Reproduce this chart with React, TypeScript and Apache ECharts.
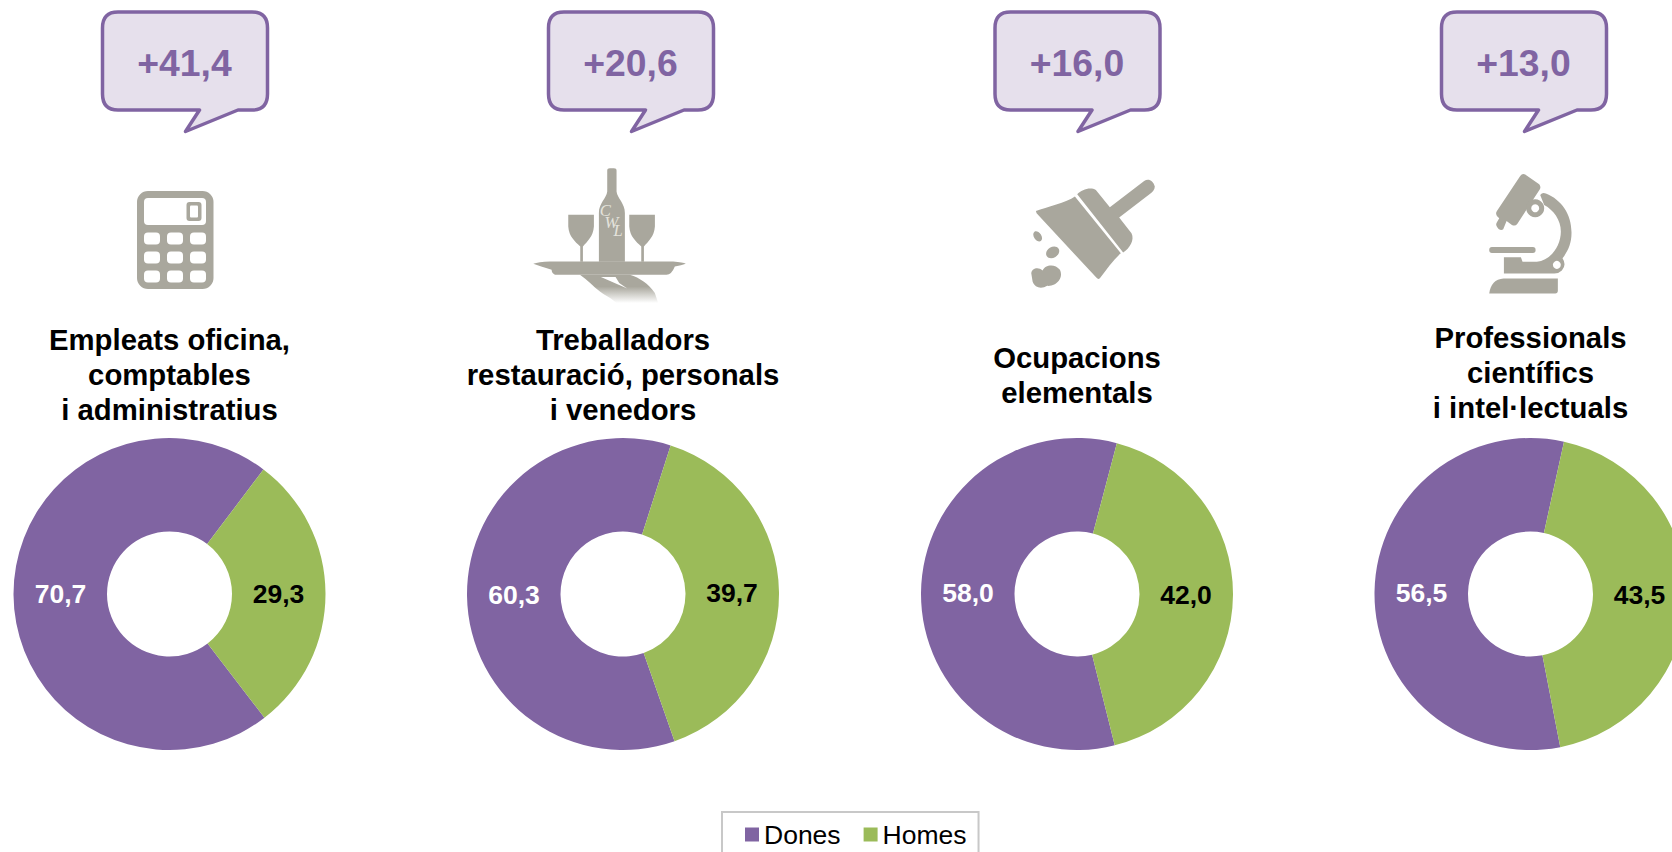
import React, { useEffect, useRef } from "react";
import * as echarts from "echarts";

const occupations = [
  ["Empleats oficina,", "comptables", "i administratius"],
  ["Treballadors", "restauració, personals", "i venedors"],
  ["Ocupacions", "elementals"],
  ["Professionals", "científics", "i intel·lectuals"],
];
const dones = [70.7, 60.3, 58.0, 56.5];
const homes = [29.3, 39.7, 42.0, 43.5];
const gaps = ["+41,4", "+20,6", "+16,0", "+13,0"];
const seriesNames = ["Dones", "Homes"];

const PURPLE = "#8064a2";
const GREEN = "#9bbb59";
const ICON = "#a9a79d";
const FONT = '"Liberation Sans", Arial, sans-serif';

const centers = [169.5, 623, 1077, 1530.5];
const startAngles = [-52.5, -70.7, -76, -79];
const titleTops = [339.3, 339.3, 357.3, 337.3];
const calloutX = [0, 446, 892.5, 1339];

echarts.graphic.registerShape(
  "callout",
  echarts.graphic.extendPath(
    "M118,12 L252,12 Q267.5,12 267.5,28 L267.5,94 Q267.5,110 252,110 L238,110 L185.5,131.5 L199.5,110 L118,110 Q102.5,110 102.5,94 L102.5,28 Q102.5,12 118,12 Z",
    {}
  )
);
const reg = (n: string, d: string) => echarts.graphic.registerShape(n, echarts.graphic.extendPath(d, {}));
reg("bottle", "M322,512 Q322,505 330,505 L342,505 Q350,505 350,512 L350,575 C352,595 375,610 375,640 L375,786 L297,786 L297,640 C297,610 320,595 322,575 Z");
reg("glass", "M205,645 L282,645 L282,680 C280,710 262,725 249,740 L249,786 L241,786 L241,740 C225,725 207,710 205,680 Z");
reg("tray", "M100,792 Q115,786 150,785 L520,785 Q550,787 558,792 Q545,797 525,800 Q515,825 500,825 L165,825 Q155,820 155,810 Q120,800 100,792 Z");
reg("hand", "M240,825 L390,825 C420,835 445,850 465,880 L475,910 L350,910 C335,895 320,890 300,875 C280,860 262,840 240,825 Z");
reg("slit", "M303,832 L347,832 L358,850 L382,866 Z");
reg("broomHead", "M228,243 C260,232 320,218 345,200 L483,370 C460,390 440,420 420,445 Q415,450 410,444 L230,250 Z");
reg("broomBack", "M352,193 C365,180 390,170 408,180 L450,232 L553,153 C565,145 580,150 585,170 C585,180 578,187 570,192 L478,263 L515,310 C525,330 510,355 490,368 Z");
reg("blob", "M214,430 C216,415 235,410 248,422 C255,405 285,400 300,420 C312,445 290,470 262,468 C245,478 225,475 218,455 Z");
reg("tube", "M325,138 Q332,128 342,135 L382,163 Q388,170 384,178 L316,282 Q310,290 300,285 L284,273 L274,298 Q268,303 260,297 L256,292 Q250,285 255,277 L262,265 L255,258 Q250,250 255,243 Z");
reg("arm", "M385,195 Q392,186 402,191 C450,210 480,255 479,310 C479,340 468,365 452,385 Q465,405 450,422 Q440,432 425,431 L276,431 L276,382 L327,382 L332,396 L375,396 C415,392 447,350 447,305 C447,270 425,240 397,225 Z");
reg("base", "M232,491 C235,465 250,447 275,446 L438,446 L438,482 Q438,491 430,491 L232,491 Z");

const rr = (x: number, y: number, w: number, h: number, r: number, fill = ICON) => ({
  type: "rect",
  shape: { x, y, width: w, height: h, r },
  style: { fill },
});

function calculator() {
  const kids: any[] = [
    rr(137, 191, 76.5, 98, 11),
    rr(144, 198, 62, 27, 4, "#fff"),
    rr(186.5, 202, 15, 19, 3),
    rr(190, 205.5, 8, 12, 1, "#fff"),
  ];
  for (const x of [144, 167, 190]) {
    for (const y of [232.5, 251.5, 270.5]) kids.push(rr(x, y, 16, 12, 4, "#fff"));
  }
  return { type: "group", children: kids };
}

function waiter() {
  const s = (type: string, extra: any = {}) => ({ type, style: { fill: ICON }, ...extra });
  const letter = (text: string, x: number, y: number) => ({
    type: "text",
    x,
    y,
    style: { text, fill: "#e4e3dc", font: 'italic 50px "Liberation Serif", serif', align: "center", verticalAlign: "middle" },
  });
  return {
    type: "group",
    x: 500,
    y: 0,
    scaleX: 1 / 3,
    scaleY: 1 / 3,
    children: [
      s("bottle"),
      s("glass"),
      s("glass", { x: 183 }),
      s("tray"),
      {
        type: "hand",
        style: {
          fill: new echarts.graphic.LinearGradient(0, 0, 0, 1, [
            { offset: 0, color: ICON },
            { offset: 0.42, color: ICON },
            { offset: 1, color: "#ffffff" },
          ]),
        },
      },
      { type: "slit", style: { fill: "#fff" } },
      letter("C", 316, 632),
      letter("W", 334, 668),
      letter("L", 354, 692),
    ],
  };
}

function broom() {
  const ell = (cx: number, cy: number, rx: number, ry: number, rot: number) => ({
    type: "ellipse",
    x: cx,
    y: cy,
    rotation: rot,
    shape: { cx: 0, cy: 0, rx, ry },
    style: { fill: ICON },
  });
  return {
    type: "group",
    x: 960,
    y: 130,
    scaleX: 1 / 3,
    scaleY: 1 / 3,
    children: [
      { type: "broomHead", style: { fill: ICON } },
      { type: "broomBack", style: { fill: ICON } },
      ell(233, 319, 11, 17, 0.6),
      ell(278, 367, 21, 16, 0.55),
      { type: "blob", style: { fill: ICON } },
    ],
  };
}

function microscope() {
  const c = (cx: number, cy: number, r: number, fill: string) => ({
    type: "circle",
    shape: { cx, cy, r },
    style: { fill },
  });
  return {
    type: "group",
    x: 1412,
    y: 130,
    scaleX: 1 / 3,
    scaleY: 1 / 3,
    children: [
      { type: "tube", style: { fill: ICON } },
      { type: "arm", style: { fill: ICON } },
      c(370, 235, 27, ICON),
      c(370, 235, 12, "#fff"),
      c(435, 405, 12, "#fff"),
      rr(232, 351, 139, 18, 8),
      { type: "base", style: { fill: ICON } },
    ],
  };
}

export default function App() {
  const ref = useRef<HTMLDivElement>(null);
  useEffect(() => {
    const chart = echarts.init(ref.current!, null, { renderer: "svg" });
    const elements: any[] = [];
    gaps.forEach((g, i) => {
      elements.push({
        type: "callout",
        x: calloutX[i],
        y: 0,
        style: { fill: "#e6e0ec", stroke: PURPLE, lineWidth: 3.5, lineJoin: "round" },
      });
      elements.push({
        type: "text",
        x: 184.5 + calloutX[i],
        y: 62.8,
        style: { text: g, fill: PURPLE, font: `bold 37.3px ${FONT}`, align: "center", verticalAlign: "middle" },
      });
    });
    occupations.forEach((lines, i) => {
      lines.forEach((line, j) => {
        elements.push({
          type: "text",
          x: centers[i],
          y: titleTops[i] + j * 35.2,
          style: { text: line, fill: "#000", font: `bold 29.3px ${FONT}`, align: "center", verticalAlign: "middle" },
        });
      });
    });
    elements.push(calculator(), waiter(), broom(), microscope());

    chart.setOption({
      animation: false,
      backgroundColor: "#fff",
      color: [PURPLE, GREEN],
      legend: {
        data: seriesNames,
        left: 722,
        top: 812,
        orient: "horizontal",
        icon: "rect",
        itemWidth: 14,
        itemHeight: 14,
        itemGap: 23,
        padding: [9, 12, 18, 23],
        borderColor: "#c8c8c8",
        borderWidth: 2,
        textStyle: { fontFamily: FONT, fontSize: 26.5, color: "#000" },
      },
      graphic: { elements },
      series: occupations.map((_, i) => ({
        type: "pie",
        center: [centers[i], 594],
        radius: [62.5, 156],
        startAngle: startAngles[i],
        clockwise: true,
        silent: true,
        avoidLabelOverlap: false,
        labelLine: { show: false },
        labelLayout: (p: any) => ({ dx: p.dataIndex === 0 ? 3.2 : -3.2 }),
        label: {
          show: true,
          position: "inside",
          fontFamily: FONT,
          fontWeight: "bold",
          fontSize: 26.5,
          formatter: (p: any) => p.value.toFixed(1).replace(".", ","),
        },
        data: [
          { name: seriesNames[0], value: dones[i], label: { color: "#fff" }, itemStyle: { color: PURPLE } },
          { name: seriesNames[1], value: homes[i], label: { color: "#000" }, itemStyle: { color: GREEN } },
        ],
      })),
    });
    return () => chart.dispose();
  }, []);
  return <div ref={ref} style={{ position: "fixed", left: 0, top: 0, width: 1672, height: 852, overflow: "hidden" }} />;
}
